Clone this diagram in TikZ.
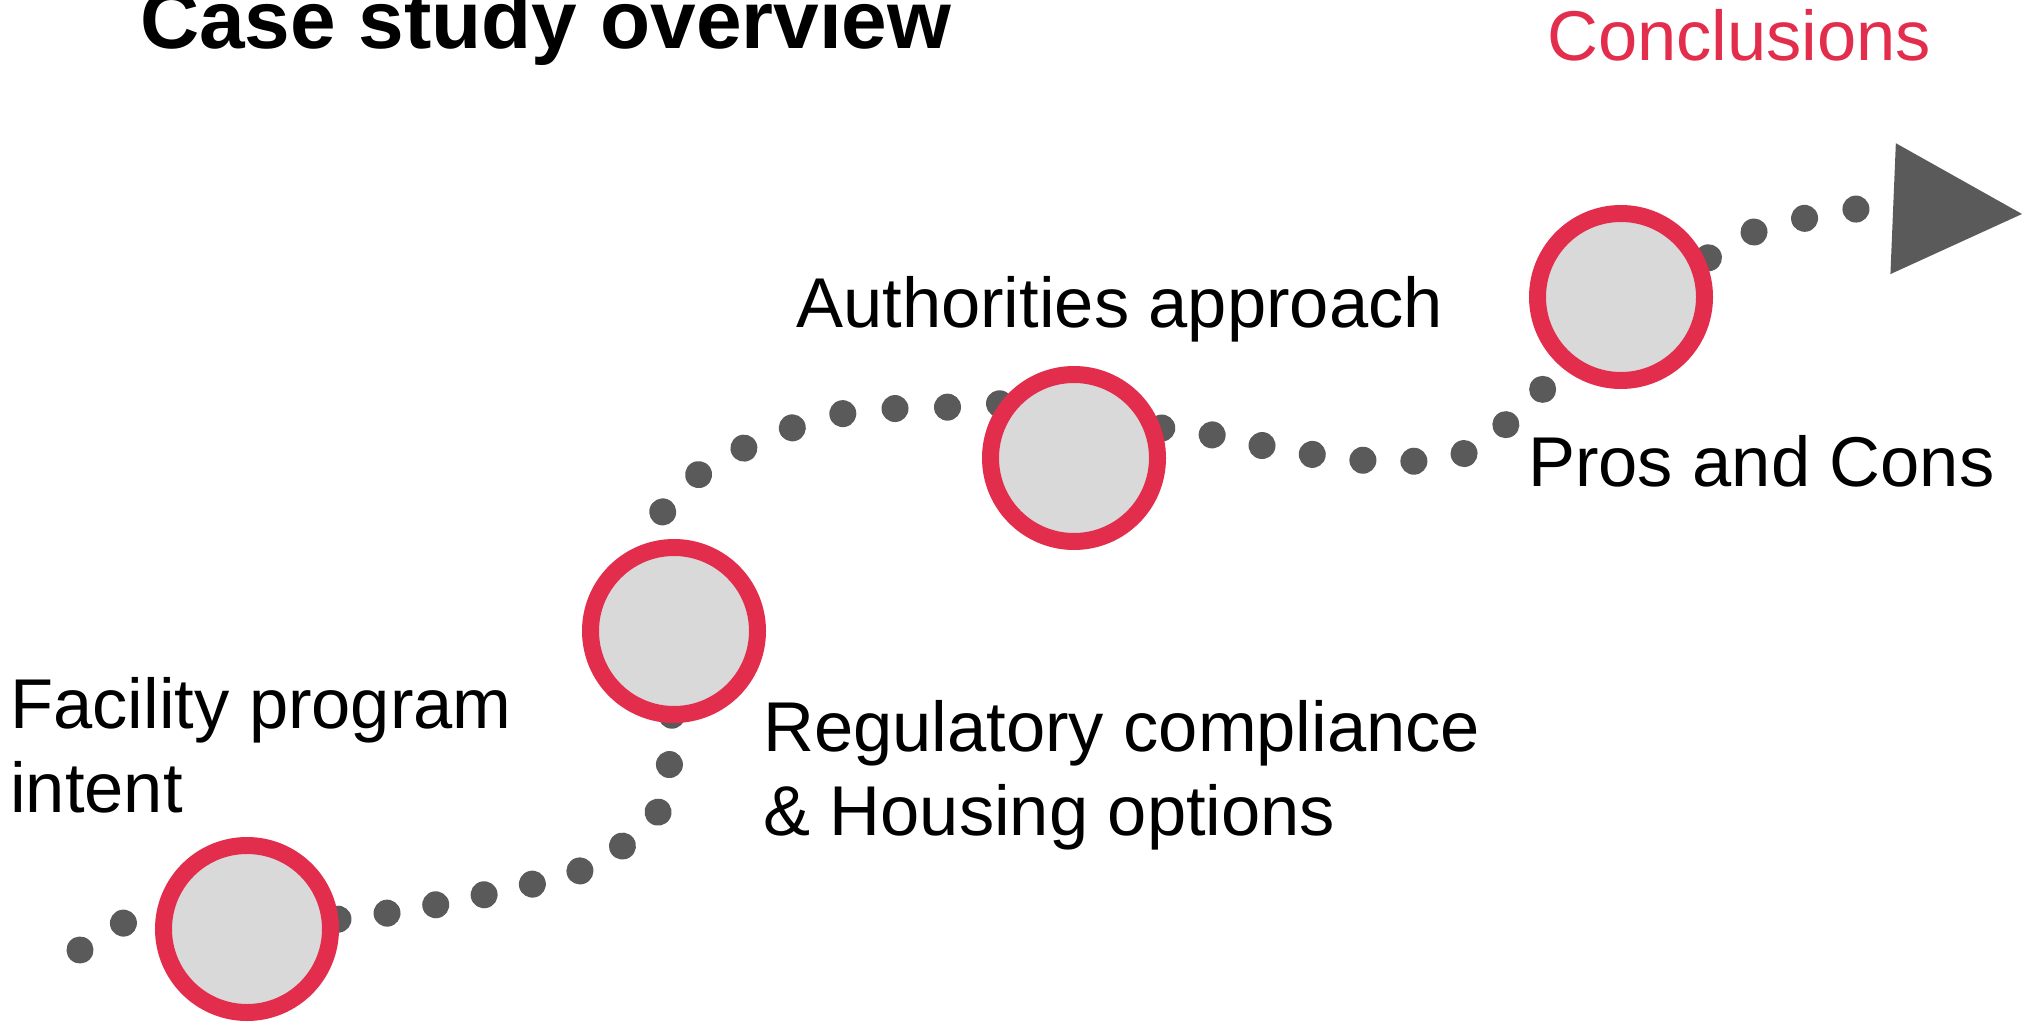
\documentclass[tikz,border=0pt]{standalone}
\usepackage{fontspec}
\setmainfont{Liberation Sans}
\usetikzlibrary{arrows.meta,backgrounds}
\definecolor{ringred}{RGB}{227,45,76}
\definecolor{dotgray}{RGB}{90,90,90}
\definecolor{discgray}{RGB}{217,217,217}
\tikzset{
	milestone/.style={circle,draw=ringred,fill=discgray,line width=17pt,minimum size=167pt,inner sep=0pt},
	steptext/.style={font=\fontsize{70.5}{84}\selectfont,inner sep=0pt,anchor=base west,align=left},
	trail/.style={dotgray,line width=27pt,line cap=round,dash pattern=on 0.01pt off #1pt},
}
\begin{document}
\begin{tikzpicture}[x=1pt,y=-1pt]
	\useasboundingbox (0,0) rectangle (2033,1022);
	\node[milestone] (m1) at (247,929) {};
	\node[milestone] (m2) at (674,631) {};
	\node[milestone] (m3) at (1074,458) {};
	\node[milestone] (m4) at (1621,297) {};
	\coordinate (start) at (80,950);
	\coordinate (tip) at (2022,214);
	\begin{scope}[on background layer]
		\draw[trail=52] plot[smooth] coordinates {(start) (124,923) (m1.center)};
		\draw[trail=49.4,dash phase=7.3pt] plot[smooth] coordinates {(m1.center) (388,913) (492,893) (587,868) (653,819) (669,769) (m2.center)};
		\draw[trail=52.5,dash phase=37.1pt] plot[smooth] coordinates {(m2.center) (663,511) (746,447) (846,413) (951,407) (1003,405) (m3.center)};
		\draw[trail=51,dash phase=9pt] plot[smooth] coordinates {(m3.center) (1162,428) (1253,444) (1358,460) (1463,454) (1544,388) (m4.center)};
		\draw[trail=52.4,dash phase=9pt,-{Triangle[length=129pt,width=131pt,line width=0pt]}] plot[smooth] coordinates {(m4.center) (1710,257) (1754,232) (1806,218) (1858,209) (tip)};
	\end{scope}
	\node[steptext,font=\fontsize{82}{96}\selectfont\bfseries] (title) at (140,49) {Case study overview};
	\node[steptext,text=ringred] (concl) at (1547,61) {Conclusions};
	\node[steptext] (l1) at (10,812) {Facility program\\intent};
	\node[steptext] (l2) at (763,835) {Regulatory compliance\\\& Housing options};
	\node[steptext] (l3) at (796,327) {Authorities approach};
	\node[steptext] (l4) at (1528,486) {Pros and Cons};
\end{tikzpicture}
\end{document}
